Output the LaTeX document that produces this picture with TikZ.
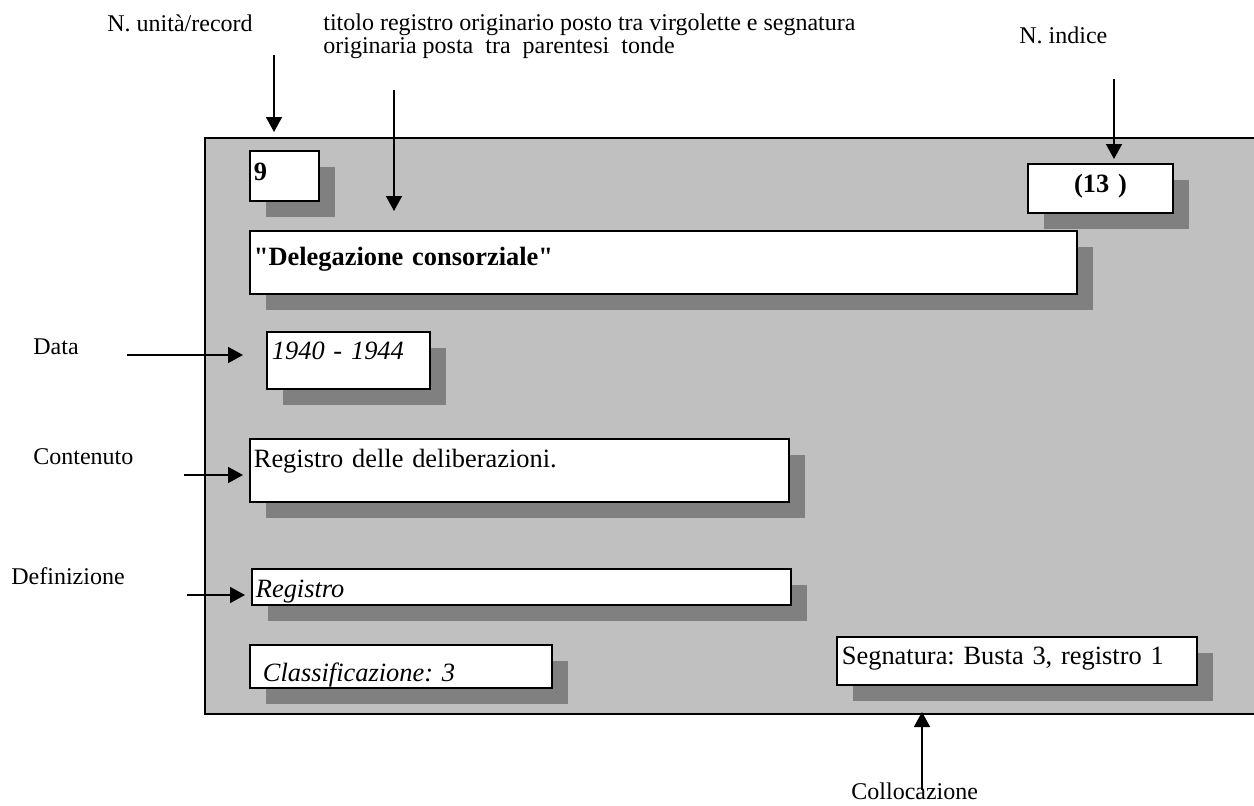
\documentclass[tikz,border=0pt]{standalone}
\usepackage{fontspec}
\setmainfont{Liberation Serif}
\usetikzlibrary{arrows.meta}
\usetikzlibrary{shadows}
\definecolor{panelgray}{HTML}{C0C0C0}
\definecolor{shadowgray}{HTML}{808080}
\newcommand{\cardfont}{\fontsize{13.2}{15}\selectfont}
\newcommand{\notefont}{\fontsize{12}{11.5}\selectfont\lineskiplimit=-6pt\relax}
\frenchspacing
\tikzset{
	card/.style={draw=black, line width=0.9pt, fill=white, anchor=north west,
		inner xsep=2pt, inner ysep=0pt, align=left, font=\cardfont,
		drop shadow={shadow xshift=8pt, shadow yshift=-8pt, fill=shadowgray, opacity=1}},
	note/.style={anchor=base west, inner sep=0pt, font=\notefont},
	pointer/.style={-{Triangle[length=7.5pt, width=8pt]}, line width=0.8pt}
}

\begin{document}
\begin{tikzpicture}[x=0.5pt, y=-0.5pt]

	\useasboundingbox (0,0) rectangle (1254,805);

	% panel
	\fill[panelgray] (205,138) rectangle (1254,714);
	\draw[line width=0.7pt] (1254,138) -- (205,138) -- (205,714) -- (1254,714);

	% cards
	\node[card, font=\cardfont\bfseries, text width=30.5pt, text height=15pt, text depth=10pt] (unit) at (249,150) {9};
	\node[card, font=\cardfont\bfseries, align=center, text width=68.5pt, text height=14.5pt, text depth=10pt] (index) at (1027,163) {(13 )};
	\node[card, font=\cardfont\bfseries, text width=409.5pt, text height=17.5pt, text depth=14pt] (title) at (249,230) {\textquotedbl Delegazione consorziale\textquotedbl};
	\node[card, font=\cardfont\itshape, inner xsep=2.5pt, text width=76.5pt, text height=14pt, text depth=14.5pt] (date) at (266,331) {1940 - 1944};
	\node[card, text width=265.5pt, text height=14.5pt, text depth=17pt] (content) at (249,438) {Registro delle deliberazioni.};
	\node[card, font=\cardfont\itshape, text width=265.5pt, text height=14.5pt, text depth=3.5pt] (kind) at (251,568) {Registro};
	\node[card, font=\cardfont\itshape, inner xsep=6.5pt, text width=138pt, text height=18.5pt, text depth=3pt] (class) at (249,644) {Classificazione: 3};
	\node[card, inner xsep=2.5pt, text width=175pt, text height=14pt, text depth=10pt] (shelf) at (836,636) {Segnatura: Busta 3, registro 1};

	% labels
	\node[note] (lunit) at (107,31) {N. unità/record};
	\node[note, anchor=north west, align=left] (ltitle) at (323,13) {titolo registro originario posto tra virgolette e segnatura\\originaria posta\ \ tra\ \ parentesi\ \ tonde};
	\node[note] (lindex) at (1019,43) {N. indice};
	\node[note] (ldate) at (33,354) {Data};
	\node[note] (lcontent) at (33,464) {Contenuto};
	\node[note] (lkind) at (11,584) {Definizione};
	\node[note] (lshelf) at (851,799) {Collocazione};

	% arrow ends
	\coordinate (unitS) at (274,55);
	\coordinate (unitE) at (274,132);
	\coordinate (titleS) at (394,90);
	\coordinate (titleE) at (394,211);
	\coordinate (indexS) at (1114,79);
	\coordinate (indexE) at (1114,159);
	\coordinate (dateS) at (127,355);
	\coordinate (dateE) at (243,355);
	\coordinate (contentS) at (184,475);
	\coordinate (contentE) at (243,475);
	\coordinate (kindS) at (187,595);
	\coordinate (kindE) at (245,595);
	\coordinate (shelfS) at (922,790);
	\coordinate (shelfE) at (922,712);

	\draw[pointer] (unitS) -- (unitE);
	\draw[pointer] (titleS) -- (titleE);
	\draw[pointer] (indexS) -- (indexE);
	\draw[pointer] (dateS) -- (dateE);
	\draw[pointer] (contentS) -- (contentE);
	\draw[pointer] (kindS) -- (kindE);
	\draw[pointer] (shelfS) -- (shelfE);

\end{tikzpicture}
\end{document}
